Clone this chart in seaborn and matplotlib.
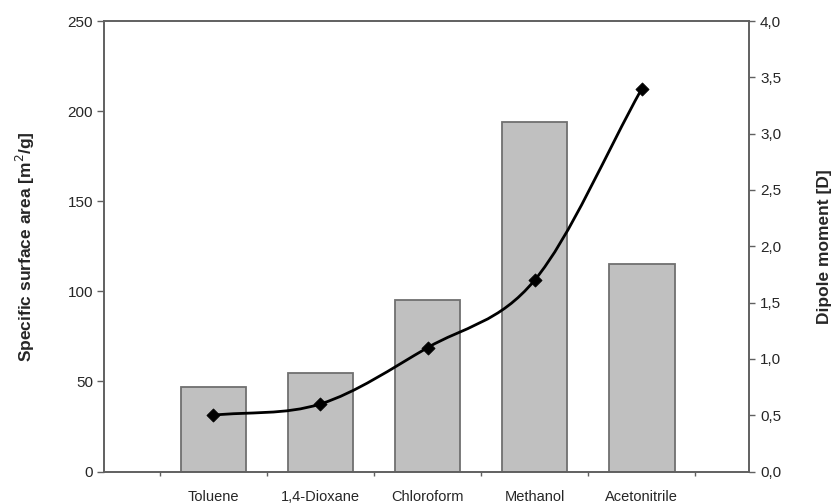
import numpy as np
import pandas as pd
import matplotlib
matplotlib.use("Agg")
import matplotlib.pyplot as plt
from matplotlib.path import Path
from matplotlib.patches import PathPatch
import seaborn as sns

# --- data ---
solvents = ["Toluene", "1,4-Dioxane", "Chloroform", "Methanol", "Acetonitrile"]
surface_area = [47, 54.5, 95, 194, 115]      # m2/g, left axis
dipole = [0.50, 0.60, 1.10, 1.70, 3.40]      # D, right axis

df = pd.DataFrame({"solvent": solvents, "area": surface_area, "dipole": dipole})

sns.set_style("white")
plt.rcParams['font.family'] = ['Liberation Sans', 'DejaVu Sans']

fig = plt.figure(figsize=(8.35, 5.03), dpi=100)
ax = fig.add_axes([0.1246, 0.0626, 0.7724, 0.8956])

sns.barplot(data=df, x="solvent", y="area", ax=ax, color="#c0c0c0",
            width=0.61, edgecolor="#707070", linewidth=1.3, saturation=1)

ax.set_xlim(-1.02, 5.0)
ax.set_ylim(0, 250)
ax.set_yticks(np.arange(0, 251, 50))
ax.set_xlabel("")
ax.set_ylabel("Specific surface area [m$^2$/g]", fontsize=12.5, fontweight="bold",
              labelpad=22)
ax.set_xticks(np.arange(len(solvents)))
ax.set_xticklabels(solvents, fontsize=10.5, va="baseline")
ax.set_xticks(np.arange(len(solvents) + 1) - 0.5, minor=True)
ax.tick_params(axis="x", which="major", length=0, pad=21)
ax.tick_params(axis="x", which="minor", length=3, width=1, color="#606060",
               direction="out", bottom=True)
ax.tick_params(axis="y", length=5, width=1, color="#606060", direction="out",
               left=True, labelsize=11, pad=3)

for s in ax.spines.values():
    s.set_color("#606060")
    s.set_linewidth(1.2)

# --- dipole moment on the right axis ---
ax2 = ax.twinx()
ax2.set_ylim(0, 4.0)
ax2.set_yticks(np.arange(0, 4.01, 0.5))
ax2.set_yticklabels([f"{v:.1f}".replace(".", ",") for v in np.arange(0, 4.01, 0.5)])
ax2.tick_params(axis="y", length=4, width=1, color="#606060", direction="out",
                right=True, labelsize=11, pad=4)
ax2.set_ylabel("Dipole moment [D]", fontsize=12.5, fontweight="bold", labelpad=26)
for s in ax2.spines.values():
    s.set_color("#606060")
    s.set_linewidth(1.2)

# smooth spline through the dipole points (Catmull-Rom as cubic Bezier)
xs = np.arange(len(dipole), dtype=float)
ys = np.array(dipole)
pts = np.column_stack([xs, ys])
tang = np.zeros_like(pts)
tang[1:-1] = (pts[2:] - pts[:-2]) / 2
tang[0] = pts[1] - pts[0]
tang[-1] = pts[-1] - pts[-2]
verts = [tuple(pts[0])]
codes = [Path.MOVETO]
for i in range(len(pts) - 1):
    c1 = pts[i] + tang[i] / 3
    c2 = pts[i + 1] - tang[i + 1] / 3
    verts += [tuple(c1), tuple(c2), tuple(pts[i + 1])]
    codes += [Path.CURVE4] * 3
ax2.add_patch(PathPatch(Path(verts, codes), facecolor="none", edgecolor="black",
                        linewidth=2, zorder=3))

sns.scatterplot(data=df, x=xs, y="dipole", ax=ax2, marker="D", color="black",
                s=45, edgecolor="black", zorder=4)
ax2.set_xlim(-1.02, 5.0)

plt.savefig("out.png", dpi=100)
